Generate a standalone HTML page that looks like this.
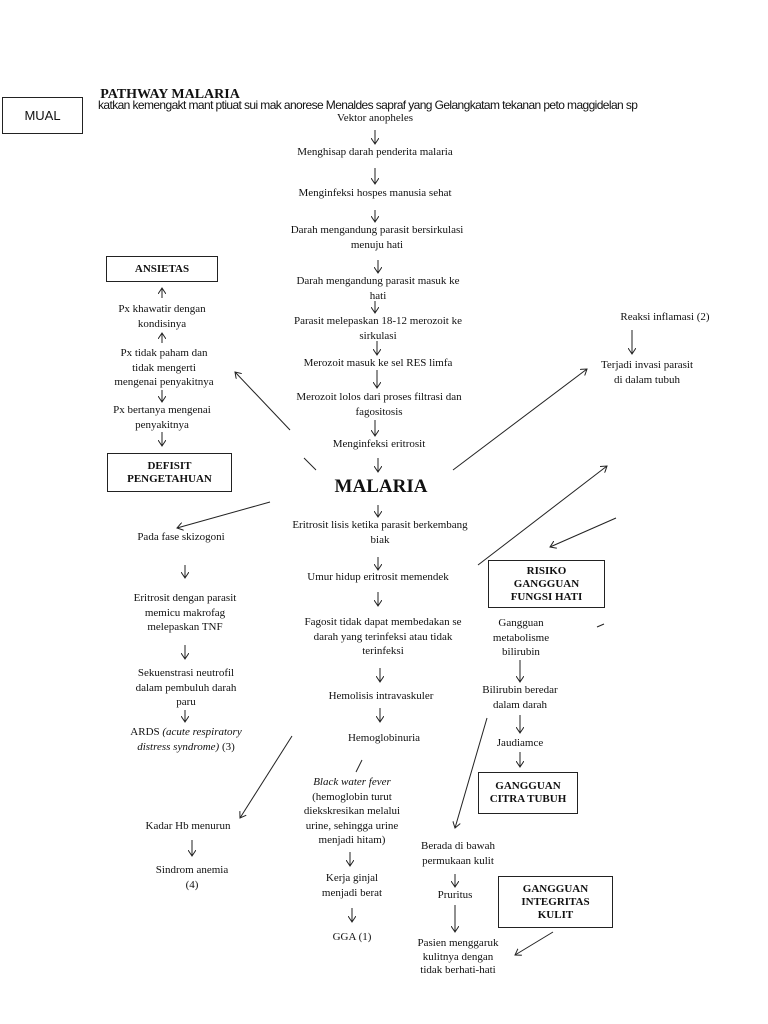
<!DOCTYPE html>
<html><head><meta charset="utf-8"><style>
body{margin:0;width:768px;height:1024px;background:#fff;position:relative;overflow:hidden;font-family:"Liberation Serif",serif;color:#111}
.t{position:absolute;font-size:11px;line-height:14.5px;text-align:center;white-space:nowrap;transform:translateX(-50%)}
.b{position:absolute;border:1.5px solid #222;font-weight:bold;font-size:11px;line-height:13px;text-align:center;display:flex;align-items:center;justify-content:center;box-sizing:border-box}
svg{position:absolute;left:0;top:0}
</style></head><body>
<svg width="768" height="1024" stroke="#222" fill="none" stroke-width="1">
<defs><marker id="a" markerWidth="8" markerHeight="8" refX="6" refY="4" orient="auto"><path d="M0,0 L6,4 L0,8" stroke="#222" fill="none"/></marker></defs>
<g marker-end="url(#a)">
<line x1="375" y1="130" x2="375" y2="144"/><line x1="375" y1="168" x2="375" y2="184"/>
<line x1="375" y1="210" x2="375" y2="222"/><line x1="378" y1="260" x2="378" y2="273"/>
<line x1="375" y1="301" x2="375" y2="313"/><line x1="377" y1="341" x2="377" y2="355"/>
<line x1="377" y1="370" x2="377" y2="388"/><line x1="375" y1="420" x2="375" y2="436"/>
<line x1="378" y1="458" x2="378" y2="472"/><line x1="378" y1="505" x2="378" y2="517"/>
<line x1="378" y1="557" x2="378" y2="570"/><line x1="378" y1="592" x2="378" y2="606"/>
<line x1="380" y1="668" x2="380" y2="682"/><line x1="380" y1="708" x2="380" y2="722"/>
<line x1="350" y1="852" x2="350" y2="866"/><line x1="352" y1="908" x2="352" y2="922"/>
<line x1="162" y1="298" x2="162" y2="288"/><line x1="162" y1="343" x2="162" y2="333"/>
<line x1="162" y1="390" x2="162" y2="402"/><line x1="162" y1="432" x2="162" y2="446"/>
<line x1="185" y1="565" x2="185" y2="578"/><line x1="185" y1="645" x2="185" y2="659"/>
<line x1="185" y1="710" x2="185" y2="722"/><line x1="192" y1="840" x2="192" y2="856"/>
<line x1="520" y1="660" x2="520" y2="682"/><line x1="520" y1="715" x2="520" y2="733"/>
<line x1="520" y1="752" x2="520" y2="767"/><line x1="455" y1="874" x2="455" y2="887"/>
<line x1="455" y1="905" x2="455" y2="932"/>
<line x1="632" y1="330" x2="632" y2="354"/>
<line x1="290" y1="430" x2="235" y2="372"/>
<line x1="453" y1="470" x2="587" y2="369"/>
<line x1="270" y1="502" x2="177" y2="528"/>
<line x1="478" y1="565" x2="607" y2="466"/>
<line x1="616" y1="518" x2="550" y2="547"/>
<line x1="487" y1="718" x2="455" y2="828"/>
<line x1="292" y1="736" x2="240" y2="818"/>
<line x1="553" y1="932" x2="515" y2="955"/>
</g>
<line x1="316" y1="470" x2="304" y2="458"/>
<line x1="362" y1="760" x2="356" y2="772"/>
<line x1="597" y1="627" x2="604" y2="624"/>
</svg>
<div class="t" style="left:170px;top:88px;font-weight:bold;font-size:14px">PATHWAY MALARIA</div>
<div style="position:absolute;left:98px;top:98px;font-family:'Liberation Sans',sans-serif;font-size:12px;white-space:nowrap;letter-spacing:-0.6px">katkan kemengakt mant ptiuat sui mak anorese Menaldes sapraf yang Gelangkatam tekanan peto maggidelan sp</div>
<div class="b" style="left:2px;top:97px;width:81px;height:37px;font-family:'Liberation Sans',sans-serif;font-weight:normal;font-size:13px">MUAL</div>
<div class="t" style="left:375px;top:111px">Vektor anopheles</div>
<div class="t" style="left:375px;top:145px">Menghisap darah penderita malaria</div>
<div class="t" style="left:375px;top:186px">Menginfeksi hospes manusia sehat</div>
<div class="t" style="left:377px;top:223px">Darah mengandung parasit bersirkulasi<br>menuju hati</div>
<div class="t" style="left:378px;top:274px">Darah mengandung parasit masuk ke<br>hati</div>
<div class="t" style="left:378px;top:314px">Parasit melepaskan 18-12 merozoit ke<br>sirkulasi</div>
<div class="t" style="left:378px;top:356px">Merozoit masuk ke sel RES limfa</div>
<div class="t" style="left:379px;top:390px">Merozoit lolos dari proses filtrasi dan<br>fagositosis</div>
<div class="t" style="left:379px;top:437px">Menginfeksi eritrosit</div>
<div class="t" style="left:381px;top:476px;font-weight:bold;font-size:19px;line-height:22px">MALARIA</div>
<div class="t" style="left:380px;top:518px">Eritrosit lisis ketika parasit berkembang<br>biak</div>
<div class="t" style="left:378px;top:570px">Umur hidup eritrosit memendek</div>
<div class="t" style="left:383px;top:615px">Fagosit tidak dapat membedakan se<br>darah yang terinfeksi atau tidak<br>terinfeksi</div>
<div class="t" style="left:381px;top:689px">Hemolisis intravaskuler</div>
<div class="t" style="left:384px;top:731px">Hemoglobinuria</div>
<div class="t" style="left:352px;top:775px"><i>Black water fever</i><br>(hemoglobin turut<br>diekskresikan melalui<br>urine, sehingga urine<br>menjadi hitam)</div>
<div class="t" style="left:352px;top:871px">Kerja ginjal<br>menjadi berat</div>
<div class="t" style="left:352px;top:930px">GGA (1)</div>
<div class="b" style="left:106px;top:256px;width:112px;height:26px">ANSIETAS</div>
<div class="t" style="left:162px;top:302px">Px khawatir dengan<br>kondisinya</div>
<div class="t" style="left:164px;top:346px">Px tidak paham dan<br>tidak mengerti<br>mengenai penyakitnya</div>
<div class="t" style="left:162px;top:403px">Px bertanya mengenai<br>penyakitnya</div>
<div class="b" style="left:107px;top:453px;width:125px;height:39px">DEFISIT<br>PENGETAHUAN</div>
<div class="t" style="left:181px;top:530px">Pada fase skizogoni</div>
<div class="t" style="left:185px;top:591px">Eritrosit dengan parasit<br>memicu makrofag<br>melepaskan TNF</div>
<div class="t" style="left:186px;top:666px">Sekuenstrasi neutrofil<br>dalam pembuluh darah<br>paru</div>
<div class="t" style="left:186px;top:725px">ARDS <i>(acute respiratory<br>distress syndrome)</i> (3)</div>
<div class="t" style="left:188px;top:819px">Kadar Hb menurun</div>
<div class="t" style="left:192px;top:863px">Sindrom anemia<br>(4)</div>
<div class="t" style="left:665px;top:310px">Reaksi inflamasi (2)</div>
<div class="t" style="left:647px;top:358px">Terjadi invasi parasit<br>di dalam tubuh</div>
<div class="b" style="left:488px;top:560px;width:117px;height:48px">RISIKO<br>GANGGUAN<br>FUNGSI HATI</div>
<div class="t" style="left:521px;top:616px">Gangguan<br>metabolisme<br>bilirubin</div>
<div class="t" style="left:520px;top:683px">Bilirubin beredar<br>dalam darah</div>
<div class="t" style="left:520px;top:736px">Jaudiamce</div>
<div class="b" style="left:478px;top:772px;width:100px;height:42px">GANGGUAN<br>CITRA TUBUH</div>
<div class="t" style="left:458px;top:839px">Berada di bawah<br>permukaan kulit</div>
<div class="t" style="left:455px;top:888px">Pruritus</div>
<div class="b" style="left:498px;top:876px;width:115px;height:52px">GANGGUAN<br>INTEGRITAS<br>KULIT</div>
<div class="t" style="left:458px;top:937px;line-height:13.5px">Pasien menggaruk<br>kulitnya dengan<br>tidak berhati-hati</div>
</body></html>
